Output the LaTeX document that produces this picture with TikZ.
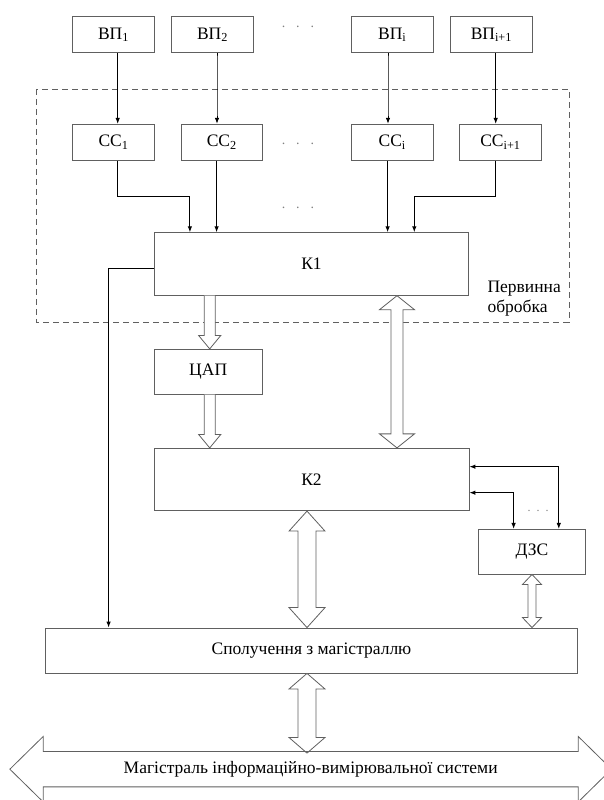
\documentclass[tikz,border=0pt]{standalone}
\usepackage{fontspec}
\setmainfont{Liberation Serif}
\usepackage{tikz}
\usetikzlibrary{arrows.meta,calc,positioning}

% hollow arrows: #1 start, #2 tip, #3 shaft half width, #4 head half width, #5 head length
\newcommand{\hollowdown}[5]{%
  \draw [hollow] let \p1=#1, \p2=#2 in (\x2-#3,\y1) -- (\x2-#3,\y2+#5) -- (\x2-#4,\y2+#5) -- (\x2,\y2)
    -- (\x2+#4,\y2+#5) -- (\x2+#3,\y2+#5) -- (\x2+#3,\y1);}
\newcommand{\hollowboth}[5]{%
  \draw [hollow] let \p1=#1, \p2=#2 in (\x1,\y1) -- (\x1+#4,\y1-#5) -- (\x1+#3,\y1-#5) -- (\x1+#3,\y2+#5)
    -- (\x1+#4,\y2+#5) -- (\x1,\y2) -- (\x1-#4,\y2+#5) -- (\x1-#3,\y2+#5) -- (\x1-#3,\y1-#5) -- (\x1-#4,\y1-#5) -- cycle;}

\begin{document}
\begin{tikzpicture}[x=1pt, y=1pt, >={Latex[length=6pt,width=4.5pt]},
  box/.style={draw=gray!75!black, line width=0.8pt, fill=white, inner sep=0pt, font=\fontsize{17.5}{19}\selectfont},
  small/.style={box, minimum width=81.6, minimum height=36},
  conn/.style={black, line width=1pt},
  hollow/.style={draw=gray!75!black, line width=0.8pt, fill=white},
  dots/.style={gray, font=\fontsize{14}{16}\selectfont}]
\useasboundingbox (0,0) rectangle (604,800);

\draw [gray!75!black, line width=0.8pt, dash pattern=on 6pt off 4pt] (36.7,711) rectangle (569,477.7);
\node [anchor=west, align=left, font=\fontsize{17.5}{20}\selectfont] (prim) at (484,501) {Первинна\\обробка};

\foreach \n/\x/\s in {1/113.5/1, 2/212.5/2, i/392.2/i, i1/491.4/{i+1}}
  \node [small] (vp\n) at (\x,765.3) {ВП\textsubscript{\s}};
\foreach \n/\x/\s in {1/113.5/1, 2/221.8/2, i/392.2/i, i1/500.4/{i+1}}
  \node [small] (cc\n) at (\x,657.7) {СС\textsubscript{\s}};

\node [dots] at (298,772.7) {.\hspace{11pt}.\hspace{11pt}.};
\node [dots] at (298,656) {.\hspace{11pt}.\hspace{11pt}.};
\node [dots] at (298,592) {.\hspace{11pt}.\hspace{11pt}.};

\node [box, minimum width=314.4, minimum height=62.6] (k1) at (311.5,536) {К1};
\node [box, minimum width=108.3, minimum height=45] (dac) at (208.2,428.2) {ЦАП};
\node [box, minimum width=315, minimum height=62.4] (k2) at (311.5,320.5) {К2};
\node [box, minimum width=107.4, minimum height=44.7] (dzs) at (532,248.3) {ДЗС};
\node [box, minimum width=531.6, minimum height=45] (link) at (311.5,149.5) {Сполучення з магістраллю};
\node [font=\fontsize{17.5}{19}\selectfont, minimum width=534.7, minimum height=35, inner sep=0pt] (bus) at (310.7,30.8) {Магістраль інформаційно-вимірювальної системи};

% sensors to CC
\foreach \n/\d in {1/4.2, 2/4.5, i/-4.2, i1/4.3}
  \draw [conn, ->] ($(vp\n.south)+(\d,0)$) coordinate (a\n) to[out=270,in=90] (a\n |- cc\n.north);

% CC to K1
\coordinate (in1) at ($(k1.north west)+(36,0)$);
\coordinate (in2) at ($(k1.north west)+(62.7,0)$);
\coordinate (in3) at ($(k1.north west)+(233.7,0)$);
\coordinate (in4) at ($(k1.north west)+(260.4,0)$);
\draw [conn, ->] ($(cc1.south)+(4.2,0)$) |- ($(in1)+(0,36)$) -- (in1);
\draw [conn, ->] (in2 |- cc2.south) -- (in2);
\draw [conn, ->] (in3 |- cci.south) -- (in3);
\draw [conn, ->] ($(cci1.south)+(-4.7,0)$) |- ($(in4)+(0,36)$) -- (in4);

\draw [conn, ->] ($(k1.west)+(0,-4.3)$) -| ($(link.north west)+(63.3,0)$);

\draw [conn, <->] ($(k2.east)+(0,12.8)$) -| ($(dzs.north east)+(-27.3,0)$);
\draw [conn, <->] ($(k2.east)+(0,-13.2)$) -| ($(dzs.north west)+(35.7,0)$);
\node [dots, font=\fontsize{12}{14}\selectfont] at (538,289) {.\hspace{6pt}.\hspace{6pt}.};

% wide arrows
\hollowdown{($(k1.south)+(-101.8,0)$)}{($(dac.north)+(1.5,0)$)}{5.5pt}{11pt}{13.3pt}
\hollowdown{($(dac.south)+(1.5,0)$)}{($(dac.south |- k2.north)+(1.5,0)$)}{5.5pt}{11pt}{13.3pt}
\hollowboth{($(k1.south)+(85.5,0)$)}{($(k2.north)+(85.5,0)$)}{6pt}{17.5pt}{14pt}
\hollowboth{($(k2.south)+(-4.5,0)$)}{($(link.north)+(-4.5,0)$)}{9pt}{18pt}{20pt}
\hollowboth{(dzs.south)}{(dzs.south |- link.north)}{4pt}{9.5pt}{10pt}
\hollowboth{($(link.south)+(-4.5,0)$)}{($(bus.north)+(-3.7,-1.6)$)}{9pt}{18pt}{15.6pt}

\draw [gray!75!black, line width=0.8pt] (bus.north west) -- (bus.north east) -- ++(0,15) -- ($(bus.east)+(33.3,0)$)
  -- ($(bus.south east)+(0,-15)$) -- (bus.south east) -- (bus.south west) -- ++(0,-15)
  -- ($(bus.west)+(-33.3,0)$) -- ($(bus.north west)+(0,15)$) -- cycle;
\end{tikzpicture}
\end{document}
